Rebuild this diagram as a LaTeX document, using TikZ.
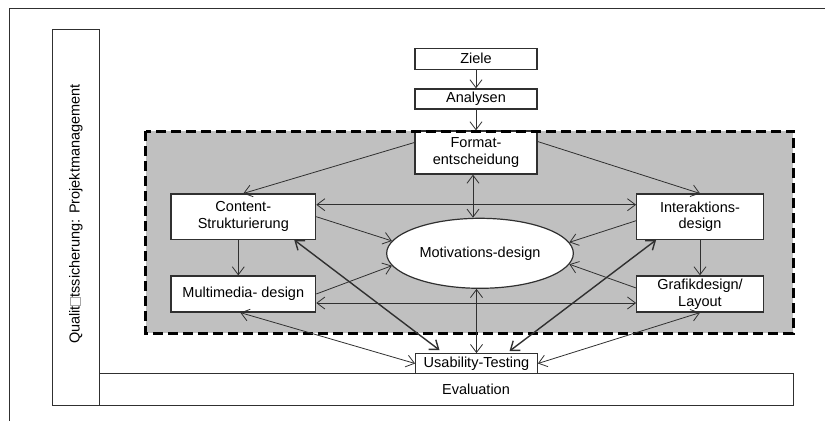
\documentclass[tikz,border=0pt]{standalone}
\usepackage{fontspec}
\setmainfont{Liberation Sans}
\usetikzlibrary{arrows.meta,shapes.geometric}
\definecolor{areagray}{HTML}{C0C0C0}
\definecolor{linegray}{HTML}{303030}
\newcommand{\missingglyph}{{\color{black!35}\setlength{\fboxsep}{0pt}\setlength{\fboxrule}{0.7pt}\fbox{\rule{0pt}{0.62em}\hspace{0.5em}}}}

\begin{document}
\begin{tikzpicture}[x=1pt,y=-1pt,
	font=\fontsize{14.5}{16.7}\selectfont,
	box/.style={draw=linegray,fill=white,line width=1.2pt,inner sep=0pt,align=center},
	arr/.style={-{Straight Barb[length=8pt,width=12pt]},line width=0.8pt,draw=linegray},
	biarr/.style={{Straight Barb[length=8pt,width=12pt]}-{Straight Barb[length=8pt,width=12pt]},line width=0.8pt,draw=linegray},
	thickarr/.style={biarr,line width=1.4pt}]
	\useasboundingbox (0,0) rectangle (825,421);
	
	% frame and side column
	\draw[linegray,line width=1pt] (825,8.3) -- (9,8.3) -- (9,421);
	\draw[linegray,line width=1pt] (52.7,29) rectangle (99.3,405.7);
	\node[rotate=90] (qual) at (76,214) {Qualit\missingglyph tssicherung: Projektmanagement};
	\draw[linegray,line width=1pt] (99.3,373.3) rectangle (793.3,405.7);
	\node (eval) at (476,389.5) {Evaluation};
	
	% grey area
	\fill[areagray] (145.7,131) rectangle (793.3,333.3);
	
	% boxes
	\node[box,minimum width=122pt,minimum height=21pt] (ziele) at (476,58.8) {Ziele};
	\node[box,minimum width=122pt,minimum height=20pt] (analysen) at (476,99) {Analysen};
	\node[box,minimum width=122pt,minimum height=43pt] (format) at (476,152.5) {Format-\\entscheidung};
	\node[box,minimum width=144.7pt,minimum height=45.3pt] (content) at (243.3,216.7) {Content-\\Strukturierung};
	\node[box,minimum width=144.7pt,minimum height=36pt] (multi) at (243.3,294) {Multimedia- design};
	\node[box,minimum width=126.6pt,minimum height=45.3pt] (inter) at (700,216.7) {Interaktions-\\design};
	\node[box,minimum width=126.6pt,minimum height=36pt] (grafik) at (700,294) {Grafikdesign/\\Layout};
	\node[box,ellipse,minimum width=186.7pt,minimum height=70pt] (motiv) at (480,253.3) {Motivations-design};
	\node[box,minimum width=121.6pt,minimum height=19.6pt] (usab) at (476.5,363.5) {Usability-Testing};
	
	\draw[black,line width=3pt,dash pattern=on 10pt off 5pt] (145.7,131) rectangle (793.3,333.3);
	
	% arrows
	\draw[arr] (ziele) -- (analysen);
	\draw[arr] (analysen) -- (format);
	\draw[arr] ([yshift=10pt]format.west) -- (content.north);
	\draw[arr] ([yshift=11pt]format.east) -- (inter.north);
	\draw[biarr] ([xshift=-3pt]format.south) -- ([xshift=-3pt]format.south |- motiv.north);
	\draw[biarr] ([yshift=12pt]content.east) -- ([yshift=12pt]content.east -| inter.west);
	\draw[arr] (content.east) -- (motiv.172);
	\draw[arr] ([yshift=-4pt]inter.west) -- (motiv.7);
	\draw[arr] ([xshift=-5pt]content.south) -- ([xshift=-5pt]multi.north);
	\draw[arr] (inter.south) -- (grafik.north);
	\draw[arr] (multi.east) -- (motiv.188);
	\draw[arr] ([yshift=6pt]grafik.west) -- (motiv.-7);
	\draw[biarr] ([yshift=-9pt]multi.east) -- ([yshift=-9pt]multi.east -| grafik.west);
	\draw[biarr] (motiv.south -| usab.north) -- (usab.north);
	\draw[thickarr] ([xshift=-22pt]content.south east) -- ([xshift=-37pt,yshift=3pt]usab.north);
	\draw[thickarr] ([xshift=20pt]inter.south west) -- ([xshift=33pt,yshift=2pt]usab.north);
	\draw[biarr] ([xshift=-3pt]multi.south) -- (usab.west);
	\draw[biarr] (grafik.south) -- (usab.east);
\end{tikzpicture}
\end{document}
